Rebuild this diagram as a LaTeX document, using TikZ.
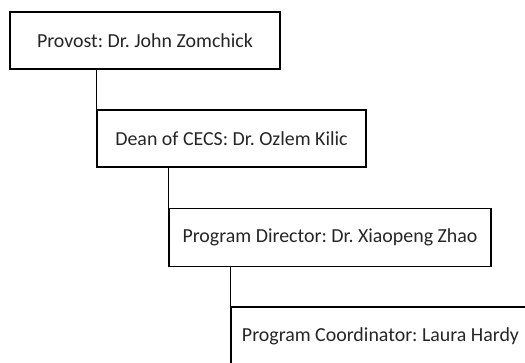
\documentclass[tikz,border=0pt]{standalone}
\usepackage{fontspec}
\setmainfont{Carlito}
\frenchspacing
\begin{document}
\begin{tikzpicture}[x=1pt,y=-1pt,
  orgbox/.style={draw=black,line width=1.5pt,fill=white,inner sep=0pt,
    font=\fontsize{19.9}{23}\selectfont,text=black!85},
  link/.style={draw=black,line width=1.5pt}]
\useasboundingbox (0,0) rectangle (525,362);
\clip (0,0) rectangle (525,362);
% staff boxes, top to bottom
\node[orgbox,minimum width=270pt,minimum height=57pt] (prov) at (145,40.5) {Provost: Dr. John Zomchick};
\node[orgbox,minimum width=269pt,minimum height=57pt] (dean) at (231.5,138.5) {Dean of CECS: Dr. Ozlem Kilic};
\node[orgbox,minimum width=322pt,minimum height=58pt] (dir) at (330,237.5) {Program Director: Dr. Xiaopeng Zhao};
\node[orgbox,minimum width=299pt,minimum height=58pt] (coord) at (380.5,336) {Program Coordinator: Laura Hardy};
% reporting lines
\draw[link] (prov.south -| dean.west) -- (dean.north west);
\draw[link] (dean.south -| dir.west) -- (dir.north west);
\draw[link] (dir.south -| coord.west) -- (coord.north west);
\end{tikzpicture}
\end{document}
